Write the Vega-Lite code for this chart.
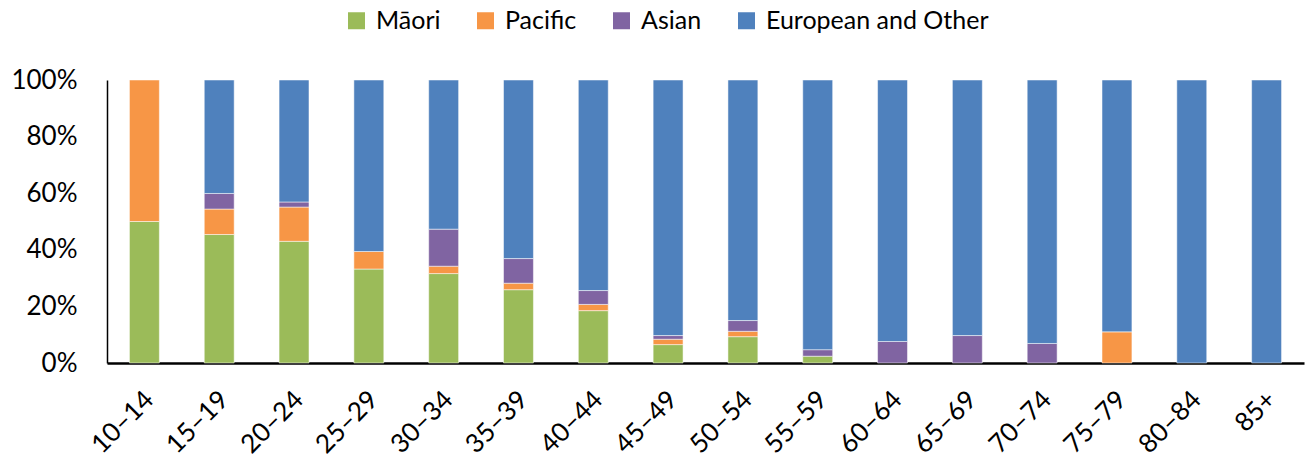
{
  "$schema": "https://vega.github.io/schema/vega-lite/v6.json",
  "width": 1197,
  "height": 283,
  "autosize": {"type": "none"},
  "padding": {"left": 107, "top": 80, "right": 8, "bottom": 100},
  "background": "white",
  "config": {
    "view": {"stroke": null},
    "font": "Lato",
    "axis": {"labelFont": "Lato", "labelFontSize": 26, "labelColor": "#000000", "grid": false, "ticks": false, "domainColor": "#000000", "domainWidth": 2, "title": null, "labelOverlap": false, "labelLimit": 300}
  },
  "data": {
    "values": [
      {"age": "10–14", "group": "Māori", "ord": 1, "pct": 50.0},
      {"age": "10–14", "group": "Pacific", "ord": 2, "pct": 50.0},
      {"age": "15–19", "group": "Māori", "ord": 1, "pct": 45.4},
      {"age": "15–19", "group": "Pacific", "ord": 2, "pct": 9.0},
      {"age": "15–19", "group": "Asian", "ord": 3, "pct": 5.5},
      {"age": "15–19", "group": "European and Other", "ord": 4, "pct": 40.1},
      {"age": "20–24", "group": "Māori", "ord": 1, "pct": 43.0},
      {"age": "20–24", "group": "Pacific", "ord": 2, "pct": 12.1},
      {"age": "20–24", "group": "Asian", "ord": 3, "pct": 1.8},
      {"age": "20–24", "group": "European and Other", "ord": 4, "pct": 43.1},
      {"age": "25–29", "group": "Māori", "ord": 1, "pct": 33.2},
      {"age": "25–29", "group": "Pacific", "ord": 2, "pct": 6.2},
      {"age": "25–29", "group": "European and Other", "ord": 4, "pct": 60.6},
      {"age": "30–34", "group": "Māori", "ord": 1, "pct": 31.6},
      {"age": "30–34", "group": "Pacific", "ord": 2, "pct": 2.6},
      {"age": "30–34", "group": "Asian", "ord": 3, "pct": 13.1},
      {"age": "30–34", "group": "European and Other", "ord": 4, "pct": 52.7},
      {"age": "35–39", "group": "Māori", "ord": 1, "pct": 25.9},
      {"age": "35–39", "group": "Pacific", "ord": 2, "pct": 2.3},
      {"age": "35–39", "group": "Asian", "ord": 3, "pct": 8.7},
      {"age": "35–39", "group": "European and Other", "ord": 4, "pct": 63.1},
      {"age": "40–44", "group": "Māori", "ord": 1, "pct": 18.5},
      {"age": "40–44", "group": "Pacific", "ord": 2, "pct": 2.2},
      {"age": "40–44", "group": "Asian", "ord": 3, "pct": 4.9},
      {"age": "40–44", "group": "European and Other", "ord": 4, "pct": 74.4},
      {"age": "45–49", "group": "Māori", "ord": 1, "pct": 6.5},
      {"age": "45–49", "group": "Pacific", "ord": 2, "pct": 1.9},
      {"age": "45–49", "group": "Asian", "ord": 3, "pct": 1.3},
      {"age": "45–49", "group": "European and Other", "ord": 4, "pct": 90.3},
      {"age": "50–54", "group": "Māori", "ord": 1, "pct": 9.3},
      {"age": "50–54", "group": "Pacific", "ord": 2, "pct": 1.9},
      {"age": "50–54", "group": "Asian", "ord": 3, "pct": 3.8},
      {"age": "50–54", "group": "European and Other", "ord": 4, "pct": 85.0},
      {"age": "55–59", "group": "Māori", "ord": 1, "pct": 2.4},
      {"age": "55–59", "group": "Asian", "ord": 3, "pct": 2.3},
      {"age": "55–59", "group": "European and Other", "ord": 4, "pct": 95.3},
      {"age": "60–64", "group": "Asian", "ord": 3, "pct": 7.6},
      {"age": "60–64", "group": "European and Other", "ord": 4, "pct": 92.4},
      {"age": "65–69", "group": "Asian", "ord": 3, "pct": 9.7},
      {"age": "65–69", "group": "European and Other", "ord": 4, "pct": 90.3},
      {"age": "70–74", "group": "Asian", "ord": 3, "pct": 6.9},
      {"age": "70–74", "group": "European and Other", "ord": 4, "pct": 93.1},
      {"age": "75–79", "group": "Pacific", "ord": 2, "pct": 11.0},
      {"age": "75–79", "group": "European and Other", "ord": 4, "pct": 89.0},
      {"age": "80–84", "group": "European and Other", "ord": 4, "pct": 100.0},
      {"age": "85+", "group": "European and Other", "ord": 4, "pct": 100.0}
    ]
  },
  "mark": {"type": "bar", "stroke": "#ffffff", "strokeOpacity": 0.5, "strokeWidth": 1},
  "encoding": {
    "x": {
      "field": "age", "type": "nominal", "sort": null,
      "scale": {"paddingInner": 0.6, "paddingOuter": 0.3},
      "axis": {"labelAngle": -45, "labelPadding": 23, "labelOffset": -4, "domainWidth": 2.5}
    },
    "y": {
      "field": "pct", "type": "quantitative", "stack": "normalize",
      "scale": {"domain": [0, 1], "nice": false},
      "axis": {"format": ".0%", "values": [0, 0.2, 0.4, 0.6, 0.8, 1], "labelPadding": 30, "domainWidth": 1.5}
    },
    "color": {
      "field": "group", "type": "nominal",
      "scale": {"domain": ["Māori", "Pacific", "Asian", "European and Other"], "range": ["#9BBB59", "#F79646", "#8064A2", "#4F81BD"]},
      "legend": {
        "title": null, "orient": "none", "direction": "horizontal",
        "legendX": 237, "legendY": -72,
        "symbolType": "square", "symbolSize": 289, "symbolStrokeWidth": 0,
        "labelFontSize": 25, "labelFont": "Lato", "labelColor": "#000000", "labelLimit": 400,
        "labelOffset": 7, "columnPadding": 32
      }
    },
    "order": {"field": "ord", "type": "quantitative"}
  }
}
